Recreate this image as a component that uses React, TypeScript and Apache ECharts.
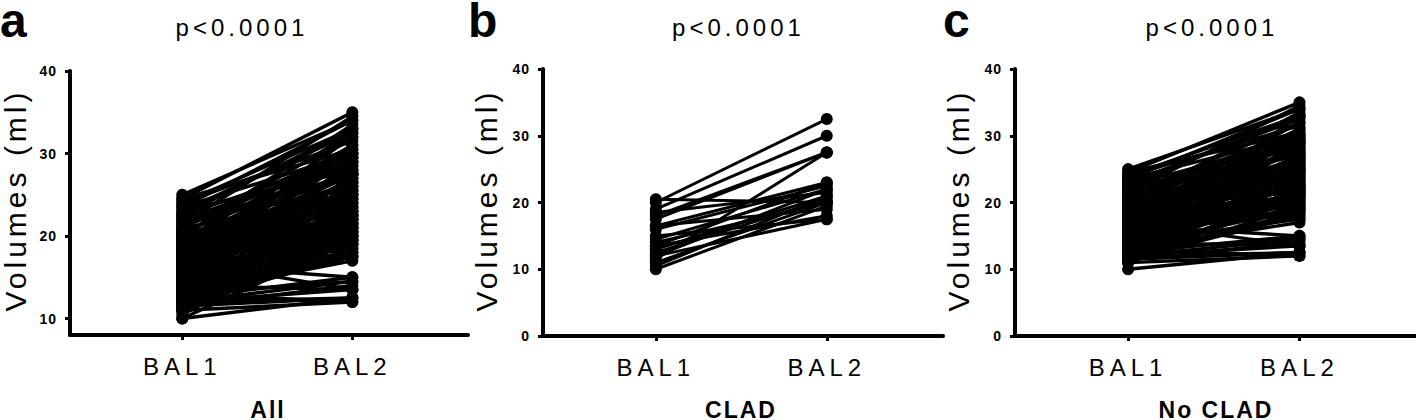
import React, { useEffect, useRef } from 'react';
import * as echarts from 'echarts';

const xLabels = ['BAL1', 'BAL2'];
const panelLetters = ['a', 'b', 'c'];
const pValueTexts = ['p<0.0001', 'p<0.0001', 'p<0.0001'];
const groupNames = ['All', 'CLAD', 'No CLAD'];
const yAxisTitle = 'Volumes (ml)';
const yTicksA = [10, 20, 30, 40];
const yTicksBC = [0, 10, 20, 30, 40];
const xTickValues = [1, 2];

const cladBal1 = [20.0, 19.0, 18.0, 17.5, 20.5, 11.5, 16.5, 16.0, 14.5, 13.5, 13.0, 12.5, 12.0, 11.0, 10.0, 10.5, 15.0, 13.5, 14.0, 18.5, 16.5, 12.0];
const cladBal2 = [32.5, 30.0, 27.5, 27.5, 20.0, 27.5, 23.0, 22.5, 22.0, 23.0, 21.0, 20.5, 22.0, 20.0, 19.5, 21.0, 17.5, 18.0, 20.0, 21.5, 19.0, 17.5];

const noCladBal1 = [
  25.0, 24.5, 24.0, 23.5, 23.0, 22.5, 22.0, 21.5, 21.0, 20.5,
  20.0, 20.0, 19.5, 19.0, 19.0, 18.5, 18.5, 18.0, 18.0, 17.5,
  17.5, 17.0, 17.0, 16.5, 16.5, 16.5, 16.0, 16.0, 15.5, 15.5,
  15.0, 15.0, 14.5, 14.5, 14.0, 14.0, 13.5, 13.5, 13.0, 13.0,
  12.5, 12.5, 12.0, 12.0, 11.5, 11.5, 11.0, 10.0, 18.0, 19.5,
  21.0, 22.0, 20.5, 17.0, 15.0, 14.0, 13.0, 12.0, 11.5, 16.0,
  18.5, 20.0, 21.5, 23.0, 24.0, 22.5, 19.0, 17.5, 15.5, 13.5,
  12.5, 11.0, 14.5, 16.5, 18.0, 20.5, 12.0, 13.0, 15.0, 17.0,
  24.5, 23.5, 22.0, 21.0, 20.0, 19.5, 19.0, 18.5, 18.0, 17.5,
  17.0, 16.5, 16.0, 15.5, 15.0, 14.5, 14.0, 13.5, 13.0, 12.5,
  12.0, 11.5, 11.5, 12.0, 13.0, 14.0, 22.5, 21.5, 20.5, 19.5,
];
const noCladBal2 = [
  34.0, 35.0, 33.0, 30.0, 32.5, 29.5, 27.0, 34.5, 30.0, 28.5,
  26.0, 33.5, 29.0, 25.5, 24.0, 27.5, 22.0, 30.0, 21.0, 26.5,
  23.5, 28.0, 20.5, 25.0, 19.5, 15.0, 29.5, 22.5, 27.0, 18.5,
  24.5, 21.5, 26.0, 20.0, 23.0, 17.5, 28.5, 19.0, 22.0, 14.5,
  25.0, 18.0, 21.0, 12.5, 20.5, 14.0, 12.0, 12.5, 32.0, 31.0,
  24.5, 22.5, 19.0, 13.5, 33.0, 29.0, 26.5, 23.5, 18.0, 20.0,
  17.5, 21.5, 27.5, 28.0, 31.5, 25.0, 23.0, 31.0, 25.5, 21.0,
  15.0, 19.5, 22.5, 27.0, 24.5, 29.0, 13.5, 17.0, 19.0, 22.0,
  30.5, 34.0, 29.0, 32.0, 27.5, 26.5, 28.0, 25.0, 22.5, 29.5,
  24.0, 21.0, 26.0, 23.0, 20.5, 25.5, 21.5, 24.0, 19.5, 22.0,
  18.5, 21.5, 12.5, 14.5, 12.0, 13.5, 33.0, 30.5, 23.5, 20.0,
];

const allBal1 = [...cladBal1, ...noCladBal1];
const allBal2 = [...cladBal2, ...noCladBal2];

const FONT = '"Liberation Sans", Arial, Helvetica, sans-serif';

export default function App() {
  const ref = useRef<HTMLDivElement>(null);

  useEffect(() => {
    if (!ref.current) return;
    const el = ref.current;
    const chart = echarts.init(el, undefined, { renderer: 'svg' });

    const panels = [
      { b1: allBal1, b2: allBal2, yMin: 8, ticks: yTicksA, lw: 3.5 },
      { b1: cladBal1, b2: cladBal2, yMin: 0, ticks: yTicksBC, lw: 3 },
      { b1: noCladBal1, b2: noCladBal2, yMin: 0, ticks: yTicksBC, lw: 3.4 },
    ];

    const grids = [
      { left: 70, top: 71, width: 398, height: 264 },
      { left: 543, top: 69, width: 400, height: 267 },
      { left: 1015, top: 69, width: 401, height: 267 },
    ];

    const xAxis = panels.map((_, i) => ({
      type: 'value',
      gridIndex: i,
      min: 0.34,
      max: 2.68,
      axisLine: { show: true, onZero: false, lineStyle: { color: '#000', width: 4 } },
      axisTick: { show: true, customValues: xTickValues, length: 5, lineStyle: { color: '#000', width: 3 } },
      axisLabel: {
        customValues: xTickValues,
        formatter: (v: number) => xLabels[Math.round(v) - 1],
        margin: 19,
        fontSize: 24,
        color: '#000',
        fontFamily: FONT,
      },
      splitLine: { show: false },
    }));

    const yAxis = panels.map((p, i) => ({
      type: 'value',
      gridIndex: i,
      min: p.yMin,
      max: 40,
      axisLine: { show: true, onZero: false, lineStyle: { color: '#000', width: 4 } },
      axisTick: { show: true, customValues: p.ticks, length: 5, lineStyle: { color: '#000', width: 3 } },
      axisLabel: {
        customValues: p.ticks,
        margin: 13,
        fontSize: 14,
        fontWeight: 'bold',
        color: '#000',
        fontFamily: FONT,
      },
      splitLine: { show: false },
    }));

    const series: any[] = [];
    panels.forEach((p, i) => {
      series.push({
        type: 'lines',
        coordinateSystem: 'cartesian2d',
        xAxisIndex: i,
        yAxisIndex: i,
        silent: true,
        z: 2,
        lineStyle: { color: '#000', width: p.lw, opacity: 1 },
        data: p.b1.map((v, k) => ({ coords: [[1, v], [2, p.b2[k]]] })),
      });
      series.push({
        type: 'scatter',
        xAxisIndex: i,
        yAxisIndex: i,
        silent: true,
        z: 3,
        symbolSize: 12,
        itemStyle: { color: '#000', opacity: 1 },
        data: [...p.b1.map((v) => [1, v]), ...p.b2.map((v) => [2, v])],
      });
    });

    const letterX = [0, 468, 943];
    const pX = [242, 738.5, 1212];
    const volX = [15, 486.6, 958.6];
    const groupX = [268, 741, 1216];

    const graphic: any[] = [];
    panels.forEach((_, i) => {
      graphic.push({
        type: 'text',
        x: letterX[i],
        y: 20,
        style: { text: panelLetters[i], fontSize: 48, fontWeight: 'bold', fontFamily: FONT, fill: '#000', align: 'left', verticalAlign: 'middle' },
      });
      graphic.push({
        type: 'text',
        x: pX[i],
        y: 27.5,
        style: { text: pValueTexts[i], fontSize: 24, fontFamily: FONT, fill: '#000', align: 'center', verticalAlign: 'middle' },
      });
      graphic.push({
        type: 'text',
        x: volX[i],
        y: 200,
        rotation: Math.PI / 2,
        style: { text: yAxisTitle, fontSize: 30, fontFamily: FONT, fill: '#000', align: 'center', verticalAlign: 'middle' },
      });
      graphic.push({
        type: 'text',
        x: groupX[i],
        y: 409.5,
        style: { text: groupNames[i], fontSize: 23, fontWeight: 'bold', fontFamily: FONT, fill: '#000', align: 'center', verticalAlign: 'middle' },
      });
    });

    chart.setOption({
      animation: false,
      grid: grids,
      xAxis,
      yAxis,
      series,
      graphic,
    });

    const applySpacing = () => {
      el.querySelectorAll('text').forEach((t) => {
        const s = t.textContent || '';
        let ls = 0;
        if (xLabels.includes(s)) ls = 5;
        else if (pValueTexts.includes(s)) ls = 4;
        else if (s === yAxisTitle) ls = 4;
        else if (groupNames.includes(s)) ls = 2;
        else if (/^\d+$/.test(s)) ls = 1;
        if (ls) (t as SVGTextElement).style.letterSpacing = ls + 'px';
      });
    };
    applySpacing();
    chart.on('finished', applySpacing);

    return () => {
      chart.dispose();
    };
  }, []);

  return <div ref={ref} style={{ position: 'absolute', left: 0, top: 0, width: 1416, height: 420 }} />;
}
